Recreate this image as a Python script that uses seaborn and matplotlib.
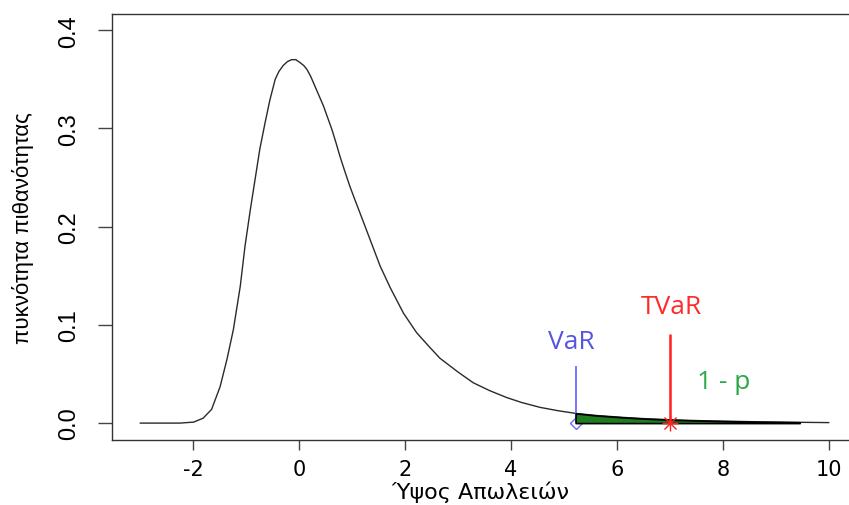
import numpy as np
import pandas as pd
import matplotlib
matplotlib.use("Agg")
import matplotlib.pyplot as plt
import seaborn as sns

# ---------------- data ----------------
loss_x = [-3.0, -2.5, -2.25, -1.99, -1.81, -1.65, -1.49, -1.36, -1.24, -1.11,
          -1.02, -0.92, -0.83, -0.74, -0.64, -0.55, -0.45, -0.38, -0.30, -0.22, -0.14,
          -0.06, 0.02, 0.09, 0.15, 0.22, 0.30, 0.38, 0.46, 0.54, 0.62, 0.70, 0.77, 0.86, 0.96, 1.05, 1.15, 1.34, 1.53,
          1.72, 1.97, 2.22, 2.47, 2.66, 3.0, 3.29, 3.6, 3.92, 4.2,
          4.55, 4.9, 5.22, 5.6, 6.12, 6.5, 7.0, 7.5, 8.0, 8.7, 9.45, 10.0]
density = [0.0, 0.0, 0.0, 0.001, 0.005, 0.014, 0.037, 0.065, 0.095, 0.139,
           0.180, 0.217, 0.248, 0.279, 0.306, 0.329, 0.350, 0.358, 0.364, 0.368, 0.370,
           0.370, 0.367, 0.364, 0.360, 0.353, 0.343, 0.333, 0.323, 0.311, 0.299, 0.285, 0.272, 0.257, 0.241, 0.228, 0.214, 0.187, 0.160,
           0.138, 0.112, 0.092, 0.077, 0.066, 0.052, 0.041, 0.033, 0.026, 0.021,
           0.016, 0.0125, 0.0099, 0.0078, 0.0058, 0.0046, 0.0034, 0.0026, 0.002, 0.0013, 0.0008, 0.0005]

var_x = 5.22          # VaR
tvar_x = 7.0          # TVaR
tail_end = 9.45       # end of shaded tail
var_seg_top = 0.058
tvar_seg_top = 0.0906

x_ticks = [-2, 0, 2, 4, 6, 8, 10]
y_ticks = [0.0, 0.1, 0.2, 0.3, 0.4]
y_tick_labels = ["0.0", "0.1", "0.2", "0.3", "0.4"]

x_label = "Ύψος Απωλειών"
y_label = "πυκνότητα πιθανότητας"

ann_var = ("VaR", 5.14, 0.083)
ann_tvar = ("TVaR", 7.03, 0.119)
ann_p = ("1 - p", 8.02, 0.042)

# ---------------- plotting ----------------
sns.set_style("ticks")
plt.rcParams["font.family"] = ["DejaVu Sans"]
plt.rcParams["text.color"] = "black"
plt.rcParams["xtick.labelcolor"] = "black"
plt.rcParams["ytick.labelcolor"] = "black"
plt.rcParams["axes.labelcolor"] = "black"

df = pd.DataFrame({"x": loss_x, "y": density})

fig = plt.figure(figsize=(8.49, 5.06), dpi=100)
ax = fig.add_axes([112 / 849, (506 - 440.5) / 506, (849 - 112) / 849, (440.5 - 15) / 506])

sns.lineplot(data=df, x="x", y="y", ax=ax, color="#2a2a2a", linewidth=1.0, sort=False)

# VaR segment + open diamond marker
ax.vlines(var_x, 0, var_seg_top, color="#6b6bff", linewidth=1.3, zorder=3)
ax.plot([var_x], [0], marker="D", markersize=6, markerfacecolor="none",
        markeredgecolor="#6b6bff", markeredgewidth=1.0, linestyle="none", zorder=3)

# shaded tail
xa = np.array(loss_x)
ya = np.array(density)
mask = (xa >= var_x) & (xa <= tail_end)
ax.fill_between(xa[mask], ya[mask], 0, facecolor="#1e7d1e", edgecolor="black",
                linewidth=1.2, zorder=4)

# TVaR segment + asterisk
ax.vlines(tvar_x, 0, tvar_seg_top, color="#ff2020", linewidth=1.8, zorder=5)
ax.plot([tvar_x], [0], marker="+", markersize=11, markeredgecolor="#ff2020",
        markeredgewidth=1.0, linestyle="none", zorder=6)
ax.plot([tvar_x], [0], marker="x", markersize=8, markeredgecolor="#ff2020",
        markeredgewidth=1.0, linestyle="none", zorder=6)

ann_font = ["Open Sans", "DejaVu Sans"]
ax.text(ann_var[1], ann_var[2], ann_var[0], color="#5555e0", fontsize=19,
        family=ann_font, ha="center", va="center")
ax.text(ann_tvar[1], ann_tvar[2], ann_tvar[0], color="#ff2a2a", fontsize=19,
        family=ann_font, ha="center", va="center")
ax.text(ann_p[1], ann_p[2], ann_p[0], color="#2aa845", fontsize=19,
        family=ann_font, ha="center", va="center")

ax.set_xlim(-3.53, 10.38)
ax.set_ylim(-0.0167, 0.4165)

ax.set_xticks(x_ticks)
ax.set_xticklabels([str(t) for t in x_ticks], fontsize=15, family=["DejaVu Sans"])
ax.set_yticks(y_ticks)
ax.set_yticklabels(y_tick_labels, fontsize=17, rotation=90, va="center",
                   family=["Liberation Sans Narrow", "Liberation Sans", "DejaVu Sans"])

ax.tick_params(axis="x", length=7, width=1, color="#444444", pad=7)
ax.tick_params(axis="y", length=10, width=1, color="#444444", pad=13)

ax.set_xlabel(x_label, fontsize=16, family=["DejaVu Sans"], va="center")
ax.xaxis.set_label_coords(0.5, -0.121)
ax.set_ylabel(y_label, fontsize=16, va="center",
              family=["Liberation Sans Narrow", "Liberation Sans", "DejaVu Sans"])
ax.yaxis.set_label_coords(-0.121, 0.5)

for side in ["left", "bottom", "top"]:
    ax.spines[side].set_visible(True)
    ax.spines[side].set_color("#333333")
    ax.spines[side].set_linewidth(1.0)
ax.spines["right"].set_visible(False)

fig.savefig("out.png", dpi=100, facecolor="white")
